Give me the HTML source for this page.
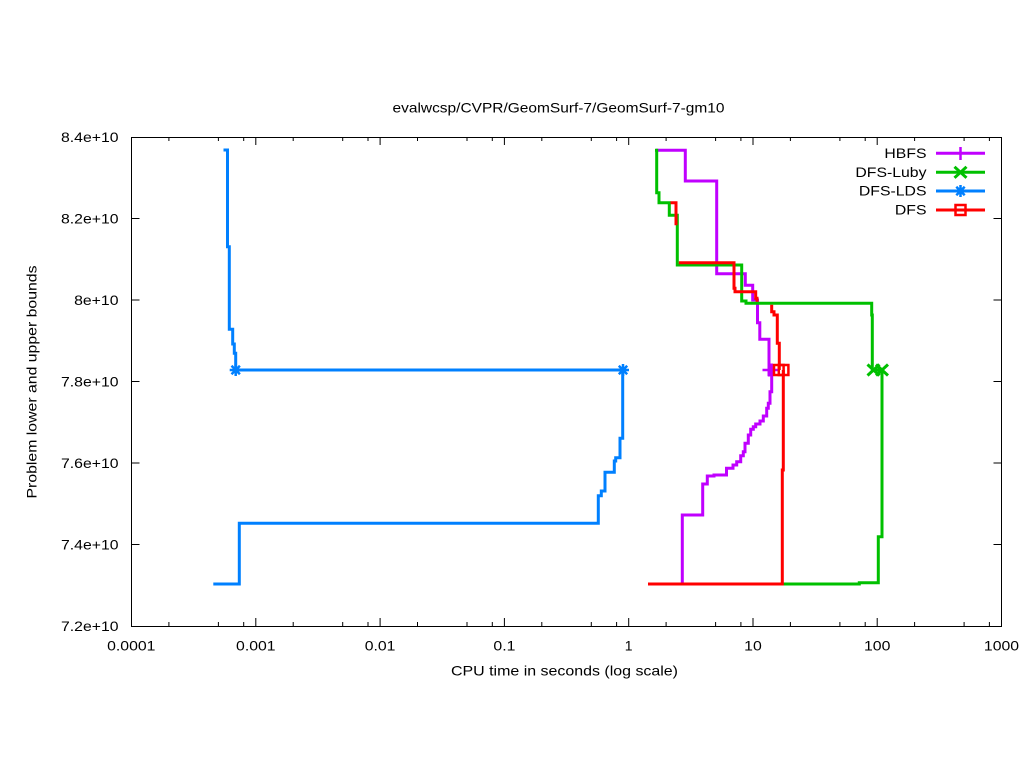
<!DOCTYPE html>
<html>
<head>
<meta charset="utf-8">
<style>
  html, body { margin: 0; padding: 0; background: #ffffff; }
  svg { display: block; }
  text { font-family: "Liberation Sans", Arial, sans-serif; font-size: 14px; fill: #000; }
</style>
</head>
<body>
<svg width="1024" height="768" viewBox="0 0 1024 768" xmlns="http://www.w3.org/2000/svg">
  <rect x="0" y="0" width="1024" height="768" fill="#ffffff"/>

  <!-- title -->
  <text x="558.5" y="112.5" text-anchor="middle" textLength="332" lengthAdjust="spacingAndGlyphs">evalwcsp/CVPR/GeomSurf-7/GeomSurf-7-gm10</text>

  <!-- ticks -->
  <g stroke="#000" stroke-width="1" fill="none">
    <path d="M131.5,218.5 h8 M131.5,300 h8 M131.5,381.5 h8 M131.5,463 h8 M131.5,544.5 h8
             M1001.5,218.5 h-8 M1001.5,300 h-8 M1001.5,381.5 h-8 M1001.5,463 h-8 M1001.5,544.5 h-8"/>
    <path d="M255.8,626 v-8 M380.1,626 v-8 M504.4,626 v-8 M628.7,626 v-8 M753,626 v-8 M877.2,626 v-8
             M255.8,137 v8 M380.1,137 v8 M504.4,137 v8 M628.7,137 v8 M753,137 v8 M877.2,137 v8"/>
    <path d="
      M168.9,626 v-4 M218.4,626 v-4 M243.7,626 v-4
      M293.2,626 v-4 M342.7,626 v-4 M368,626 v-4
      M417.5,626 v-4 M467,626 v-4 M492.3,626 v-4
      M541.8,626 v-4 M591.3,626 v-4 M616.6,626 v-4
      M666.1,626 v-4 M715.6,626 v-4 M740.9,626 v-4
      M790.4,626 v-4 M839.9,626 v-4 M865.2,626 v-4
      M914.6,626 v-4 M964.1,626 v-4 M989.4,626 v-4
      M168.9,137 v4 M218.4,137 v4 M243.7,137 v4
      M293.2,137 v4 M342.7,137 v4 M368,137 v4
      M417.5,137 v4 M467,137 v4 M492.3,137 v4
      M541.8,137 v4 M591.3,137 v4 M616.6,137 v4
      M666.1,137 v4 M715.6,137 v4 M740.9,137 v4
      M790.4,137 v4 M839.9,137 v4 M865.2,137 v4
      M914.6,137 v4 M964.1,137 v4 M989.4,137 v4"/>
  </g>

  <!-- y tick labels -->
  <g text-anchor="end">
    <text x="118.5" y="142" textLength="57.5" lengthAdjust="spacingAndGlyphs">8.4e+10</text>
    <text x="118.5" y="223.5" textLength="57.5" lengthAdjust="spacingAndGlyphs">8.2e+10</text>
    <text x="118.5" y="305" textLength="44.4" lengthAdjust="spacingAndGlyphs">8e+10</text>
    <text x="118.5" y="386.5" textLength="57.5" lengthAdjust="spacingAndGlyphs">7.8e+10</text>
    <text x="118.5" y="468" textLength="57.5" lengthAdjust="spacingAndGlyphs">7.6e+10</text>
    <text x="118.5" y="549.5" textLength="57.5" lengthAdjust="spacingAndGlyphs">7.4e+10</text>
    <text x="118.5" y="631" textLength="57.5" lengthAdjust="spacingAndGlyphs">7.2e+10</text>
  </g>

  <!-- x tick labels -->
  <g text-anchor="middle">
    <text x="131.3" y="650.5" textLength="48.3" lengthAdjust="spacingAndGlyphs">0.0001</text>
    <text x="255.8" y="650.5" textLength="39.5" lengthAdjust="spacingAndGlyphs">0.001</text>
    <text x="380.1" y="650.5" textLength="30.7" lengthAdjust="spacingAndGlyphs">0.01</text>
    <text x="504.4" y="650.5" textLength="22" lengthAdjust="spacingAndGlyphs">0.1</text>
    <text x="628.7" y="650.5">1</text>
    <text x="753" y="650.5" textLength="17.6" lengthAdjust="spacingAndGlyphs">10</text>
    <text x="877.2" y="650.5" textLength="26.4" lengthAdjust="spacingAndGlyphs">100</text>
    <text x="1001.5" y="650.5" textLength="35.1" lengthAdjust="spacingAndGlyphs">1000</text>
  </g>

  <!-- axis labels -->
  <text x="564.5" y="675.5" text-anchor="middle" textLength="227" lengthAdjust="spacingAndGlyphs">CPU time in seconds (log scale)</text>
  <text transform="translate(36.5,382) rotate(-90)" x="0" y="0" text-anchor="middle" textLength="233" lengthAdjust="spacingAndGlyphs">Problem lower and upper bounds</text>

  <!-- data series -->
  <g fill="none" stroke-width="3" stroke-linejoin="miter" stroke-linecap="butt">
    <!-- HBFS -->
    <path stroke="#c000ff" d="M656,150.3 H685.3 V181 H716.7 V273.7 H745.3 V285.3 H752.7 V300 H757.5 V322.7 H759.8 V339.3 H769 V376"/>
    <path stroke="#c000ff" d="M648,584 H682.3 V515 H702.7 V484 H707.3 V476 H714 V475 H726.5 V468.3 H733 V465 H736.7 V461.7 H740.7 V455.7 H743.3 V451.7 H745 V443.3 H748.3 V435 H750.7 V429.3 H753.3 V426.7 H755.7 V424 H760 V421 H763.3 V416 H766.7 V408.3 H768.3 V403.3 H770 V391.7 H771.7 V370"/>
    <!-- DFS-Luby -->
    <path stroke="#00c000" d="M655,150.3 H656.7 V192.7 H659 V202.7 H669.3 V215.3 H677.3 V265 H741.7 V301 H746 V303.3 H871.7 V315 H872.3 V370 H882"/>
    <path stroke="#00c000" d="M648,584 H859.3 V582.7 H878.3 V536.7 H882 V370"/>
    <!-- DFS-LDS -->
    <path stroke="#0080ff" d="M223.5,150 H227.5 V246.7 H229.3 V329.3 H232.7 V344 H234.3 V353.3 H235.7 V370 H623"/>
    <path stroke="#0080ff" d="M213.3,584 H239.3 V523.3 H598.3 V495.7 H601.3 V491 H605 V472.3 H614.3 V461 H615.7 V457.7 H620 V438.3 H622.7 V370"/>
    <!-- DFS -->
    <path stroke="#ff0000" d="M670.5,202.7 H676 V225.3"/>
    <path stroke="#ff0000" d="M678.8,262.8 H734 V288.3 H735 V291.7 H755.7 V298.3 H757 V301.8"/>
    <path stroke="#ff0000" d="M771.7,304.8 V311.7 H774 V315 H777.3 V343.3 H779.3 V370"/>
    <path stroke="#ff0000" d="M648,584 H782.3 V470 H783.3 V370"/>
  </g>

  <!-- markers -->
  <g fill="none" stroke-width="2.5">
    <path stroke="#c000ff" d="M762.5,370 h13 M769,363.5 v13 M765.2,370 h13 M771.7,363.5 v13"/>
    <path stroke="#00c000" stroke-width="3" d="M867.5,364.5 l12,11 M879.5,364.5 l-12,11 M876,364.5 l12,11 M888,364.5 l-12,11"/>
    <path stroke="#0080ff" d="M229.7,370 h12 M235.7,364 v12 M231.5,365.8 l8.4,8.4 M239.9,365.8 l-8.4,8.4
                              M617,370 h12 M623,364 v12 M618.8,365.8 l8.4,8.4 M627.2,365.8 l-8.4,8.4"/>
    <rect stroke="#ff0000" x="774" y="365" width="9.6" height="10"/>
    <rect stroke="#ff0000" x="778.8" y="365" width="9.6" height="10"/>
  </g>

  <!-- legend -->
  <g text-anchor="end">
    <text x="926.5" y="158" textLength="42.1" lengthAdjust="spacingAndGlyphs">HBFS</text>
    <text x="926.5" y="177" textLength="71.1" lengthAdjust="spacingAndGlyphs">DFS-Luby</text>
    <text x="926.5" y="195.7" textLength="67.6" lengthAdjust="spacingAndGlyphs">DFS-LDS</text>
    <text x="926.5" y="214.7" textLength="31.6" lengthAdjust="spacingAndGlyphs">DFS</text>
  </g>
  <g fill="none" stroke-width="3">
    <path stroke="#c000ff" d="M936,153.3 H985"/>
    <path stroke="#00c000" d="M936,172.3 H985"/>
    <path stroke="#0080ff" d="M936,191 H985"/>
    <path stroke="#ff0000" d="M936,210 H985"/>
  </g>
  <g fill="none" stroke-width="2.5">
    <path stroke="#c000ff" d="M960.5,147 v13"/>
    <path stroke="#00c000" stroke-width="3" d="M954.5,166.8 l12,11 M966.5,166.8 l-12,11"/>
    <path stroke="#0080ff" d="M954.5,191 h12 M960.5,185 v12 M956.3,186.8 l8.4,8.4 M964.7,186.8 l-8.4,8.4"/>
    <rect stroke="#ff0000" x="955.5" y="205" width="10" height="10"/>
  </g>

  <!-- frame -->
  <rect x="131.5" y="137.5" width="870" height="489" fill="none" stroke="#000" stroke-width="1"/>
</svg>
</body>
</html>
